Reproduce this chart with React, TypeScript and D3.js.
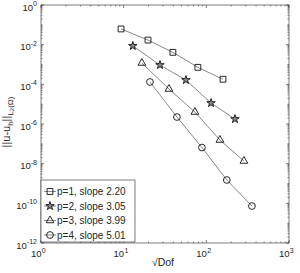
import React from 'react'
import * as d3 from 'd3'

// sqrt(Dof) and L2 error for each polynomial order
const sqrtDof1 = [9.3, 19.7, 39.4, 79, 159]
const err1 = [6.2e-2, 1.7e-2, 4.1e-3, 7.2e-4, 1.8e-4]
const sqrtDof2 = [12.9, 27.5, 56.6, 114, 222]
const err2 = [8.6e-3, 9.4e-4, 1.65e-4, 1.14e-5, 1.78e-6]
const sqrtDof3 = [16.6, 35.3, 72.8, 146, 285]
const err3 = [1.19e-3, 5.8e-5, 4.0e-6, 1.56e-7, 1.36e-8]
const sqrtDof4 = [20.8, 44.1, 88.5, 177, 356]
const err4 = [1.31e-4, 2.25e-6, 6.5e-8, 1.5e-9, 7.3e-11]

const legendLabels = ['p=1, slope 2.20', 'p=2, slope 3.05', 'p=3, slope 3.99', 'p=4, slope 5.01']
const xTickExps = [0, 1, 2, 3]
const yTickExps = [0, -2, -4, -6, -8, -10, -12]

const FONT = '"Liberation Sans", Arial, Helvetica, sans-serif'
const INK = '#262626'

const margin = { left: 41, top: 5, right: 11, bottom: 30 }
const W = 300
const H = 273

const x = d3.scaleLog().domain([1, 1000]).range([margin.left, W - margin.right])
const y = d3.scaleLog().domain([1e-12, 1]).range([H - margin.bottom, margin.top])

const symbols = [
  d3.symbol(d3.symbolSquare, 34)(),
  d3.symbol(d3.symbolStar, 22)(),
  d3.symbol(d3.symbolTriangle, 26)(),
  d3.symbol(d3.symbolCircle, 36)(),
]
const symbolFill = ['none', '#888', 'none', 'none']

const series = [
  { xs: sqrtDof1, ys: err1 },
  { xs: sqrtDof2, ys: err2 },
  { xs: sqrtDof3, ys: err3 },
  { xs: sqrtDof4, ys: err4 },
]

export default function App() {
  const [x0, x1] = x.range()
  const [y1, y0] = y.range()

  const line = d3.line<[number, number]>()
    .x(d => x(d[0]))
    .y(d => y(d[1]))

  // minor ticks
  const xMinor: number[] = []
  for (let e = 0; e < 3; e++) for (let k = 2; k <= 9; k++) xMinor.push(k * Math.pow(10, e))
  const yMinor: number[] = []
  for (let e = -12; e < 0; e++) {
    for (let k = 2; k <= 9; k++) yMinor.push(k * Math.pow(10, e))
    if (e % 2 !== 0) yMinor.push(Math.pow(10, e))
  }

  const majLen = 3
  const minLen = 1.6

  return (
    <svg width={W} height={H} style={{ position: 'absolute', left: 0, top: 0, background: '#fff' }}>
      <rect x={0} y={0} width={W} height={H} fill="#fff" />

      {/* series */}
      {series.map((s, i) => {
        const pts = s.xs.map((v, j) => [v, s.ys[j]] as [number, number])
        return (
          <g key={i}>
            <path d={line(pts) || ''} fill="none" stroke="#555" strokeWidth={0.7} />
            {pts.map((p, j) => (
              <path key={j} d={symbols[i] || ''} transform={`translate(${x(p[0])},${y(p[1])})`}
                fill={symbolFill[i]} stroke="#111" strokeWidth={0.9} />
            ))}
          </g>
        )
      })}

      {/* axes box */}
      <rect x={x0} y={y0} width={x1 - x0} height={y1 - y0} fill="none" stroke={INK} strokeWidth={0.6} />

      {/* x ticks */}
      {xTickExps.map(e => {
        const px = x(Math.pow(10, e))
        return (
          <g key={'xt' + e}>
            <line x1={px} x2={px} y1={y1} y2={y1 - majLen} stroke={INK} strokeWidth={0.6} />
            <line x1={px} x2={px} y1={y0} y2={y0 + majLen} stroke={INK} strokeWidth={0.6} />
            <text x={px + 0.5} y={y1 + 14} textAnchor="end" fontFamily={FONT} fontSize={9.5} fill={INK}>10</text>
            <text x={px + 0.8} y={y1 + 9.5} textAnchor="start" fontFamily={FONT} fontSize={7} fill={INK}>{e}</text>
          </g>
        )
      })}
      {xMinor.map((v, i) => (
        <g key={'xm' + i}>
          <line x1={x(v)} x2={x(v)} y1={y1} y2={y1 - minLen} stroke={INK} strokeWidth={0.5} />
          <line x1={x(v)} x2={x(v)} y1={y0} y2={y0 + minLen} stroke={INK} strokeWidth={0.5} />
        </g>
      ))}

      {/* y ticks */}
      {yTickExps.map(e => {
        const py = y(Math.pow(10, e))
        return (
          <g key={'yt' + e}>
            <line x1={x0} x2={x0 + majLen} y1={py} y2={py} stroke={INK} strokeWidth={0.6} />
            <line x1={x1} x2={x1 - majLen} y1={py} y2={py} stroke={INK} strokeWidth={0.6} />
            <text x={37} y={py + 5.5} textAnchor="end" fontFamily={FONT} fill={INK}>
              <tspan fontSize={9.5}>10</tspan>
              <tspan fontSize={7} dy={-4.5}>{e === 0 ? '0' : '-' + Math.abs(e)}</tspan>
            </text>
          </g>
        )
      })}
      {yMinor.map((v, i) => (
        <g key={'ym' + i}>
          <line x1={x0} x2={x0 + minLen} y1={y(v)} y2={y(v)} stroke={INK} strokeWidth={0.5} />
          <line x1={x1} x2={x1 - minLen} y1={y(v)} y2={y(v)} stroke={INK} strokeWidth={0.5} />
        </g>
      ))}

      {/* axis labels */}
      <text x={(x0 + x1) / 2 - 2} y={266} textAnchor="middle" fontFamily={FONT} fontSize={10.5} fill={INK}>√Dof</text>
      <text transform={`translate(10,${(y0 + y1) / 2 - 2}) rotate(-90)`} textAnchor="middle" fontFamily={FONT} fill={INK}>
        <tspan fontSize={11}>||u-u</tspan>
        <tspan fontSize={8} dy={2.5}>h</tspan>
        <tspan fontSize={11} dy={-2.5}>||</tspan>
        <tspan fontSize={8} dy={2.5}>L</tspan>
        <tspan fontSize={6} dy={1.5}>2</tspan>
        <tspan fontSize={8} dy={-1.5}>(Ω)</tspan>
      </text>

      {/* legend */}
      <g>
        <rect x={x0} y={180} width={94} height={62} fill="#fff" stroke={INK} strokeWidth={0.6} />
        {legendLabels.map((lab, i) => {
          const ly = 191.5 + i * 14.5
          return (
            <g key={lab}>
              <line x1={44} x2={56} y1={ly} y2={ly} stroke="#555" strokeWidth={0.7} />
              <path d={symbols[i] || ''} transform={`translate(50,${ly})`} fill={symbolFill[i]} stroke="#111" strokeWidth={0.9} />
              <text x={57} y={ly + 3.6} fontFamily={FONT} fontSize={10} fill={INK}>{lab}</text>
            </g>
          )
        })}
      </g>
    </svg>
  )
}
